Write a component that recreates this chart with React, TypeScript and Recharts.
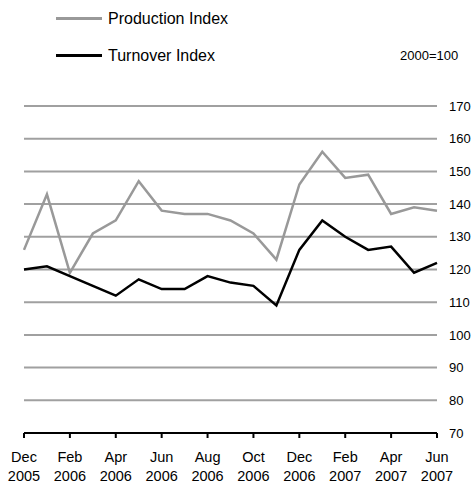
import { LineChart, Line, XAxis, YAxis, CartesianGrid } from "recharts";

const months = ["Dec", "Jan", "Feb", "Mar", "Apr", "May", "Jun", "Jul", "Aug", "Sep", "Oct", "Nov", "Dec", "Jan", "Feb", "Mar", "Apr", "May", "Jun"];
const years = ["2005", "2006", "2006", "2006", "2006", "2006", "2006", "2006", "2006", "2006", "2006", "2006", "2006", "2007", "2007", "2007", "2007", "2007", "2007"];
const production = [126, 143, 119, 131, 135, 147, 138, 137, 137, 135, 131, 123, 146, 156, 148, 149, 137, 139, 138];
const turnover = [120, 121, 118, 115, 112, 117, 114, 114, 118, 116, 115, 109, 126, 135, 130, 126, 127, 119, 122];
const yTicks = [70, 80, 90, 100, 110, 120, 130, 140, 150, 160, 170];
const xTicks = [0, 2, 4, 6, 8, 10, 12, 14, 16, 18];

const series = [
  { key: "production", name: "Production Index", color: "#999999" },
  { key: "turnover", name: "Turnover Index", color: "#000000" },
];

const data = months.map((m, i) => ({
  idx: i,
  production: production[i],
  turnover: turnover[i],
}));

const FONT = "'Liberation Sans', Arial, Helvetica, sans-serif";

// two-line month / year label under each tick
function MonthTick({ x, y, payload }: any) {
  const i = payload.value;
  return (
    <g>
      <text x={x} y={y} textAnchor="middle" fontSize={14.5} fontFamily={FONT} fill="#000">
        <tspan x={x} dy={22}>{months[i]}</tspan>
        <tspan x={x} dy={19}>{years[i]}</tspan>
      </text>
    </g>
  );
}

export default function App() {
  return (
    <div style={{ position: "absolute", left: 0, top: 0, width: 473, height: 486, background: "#fff" }}>
      <LineChart width={473} height={486} data={data} margin={{ top: 106, right: 0, bottom: 0, left: 24 }}>
        <CartesianGrid horizontal vertical={false} stroke="#a0a0a0" strokeWidth={2} />
        <XAxis
          dataKey="idx"
          type="number"
          domain={[0, 18]}
          ticks={xTicks}
          height={53}
          axisLine={{ stroke: "#000", strokeWidth: 2 }}
          tickLine={{ stroke: "#000", strokeWidth: 2 }}
          tickSize={5}
          tick={<MonthTick />}
          interval={0}
        />
        <YAxis
          orientation="right"
          domain={[70, 170]}
          ticks={yTicks}
          width={36}
          axisLine={false}
          tickLine={false}
          tickSize={0}
          tickMargin={12}
          interval={0}
          tick={{ fill: "#000", fontSize: 13, fontFamily: FONT, textAnchor: "start" }}
        />
        {series.map((s) => (
          <Line
            key={s.key}
            name={s.name}
            dataKey={s.key}
            stroke={s.color}
            strokeWidth={2.5}
            dot={false}
            isAnimationActive={false}
          />
        ))}
      </LineChart>
      {/* legend */}
      <div style={{ position: "absolute", left: 56, top: 0, fontFamily: FONT, fontSize: 16, color: "#000" }}>
        {series.map((s) => (
          <div key={s.key} style={{ display: "flex", alignItems: "center", height: 37 }}>
            <span style={{ display: "inline-block", width: 46, height: 3, background: s.color, marginRight: 6 }} />
            {s.name}
          </div>
        ))}
      </div>
      <div style={{ position: "absolute", left: 400, top: 48, fontFamily: FONT, fontSize: 13, color: "#000" }}>2000=100</div>
    </div>
  );
}
